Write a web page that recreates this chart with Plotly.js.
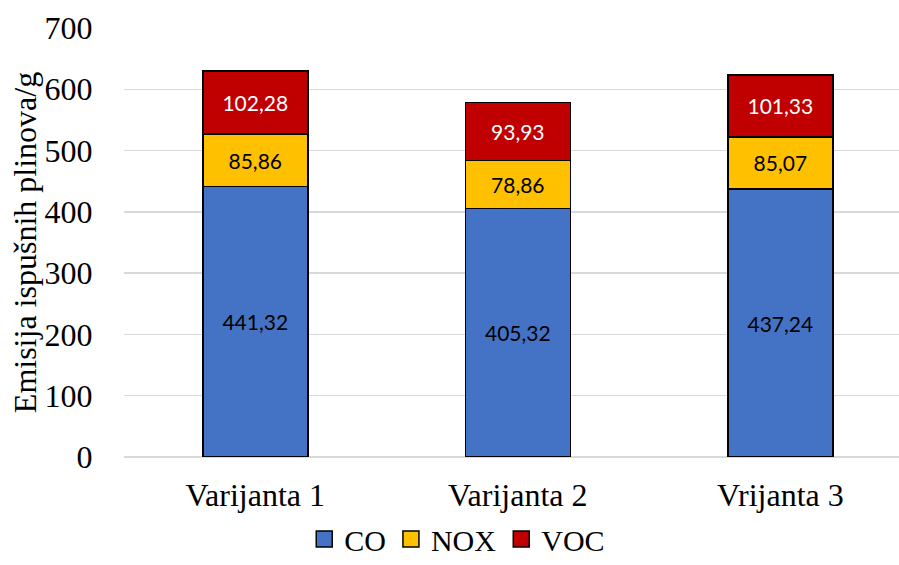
<!DOCTYPE html>
<html>
<head>
<meta charset="utf-8">
<script src="https://cdn.plot.ly/plotly-3.0.1.min.js"></script>
<style>html,body{margin:0;padding:0;background:#fff;}#chart{width:899px;height:565px;}</style>
</head>
<body>
<div id="chart"></div>
<script>
const categories = ["Varijanta 1", "Varijanta 2", "Vrijanta 3"];
const coValues = [441.32, 405.32, 437.24];
const noxValues = [85.86, 78.86, 85.07];
const vocValues = [102.28, 93.93, 101.33];
const seriesNames = ["CO", "NOX", "VOC"];
const yTicks = [0, 100, 200, 300, 400, 500, 600, 700];

const colors = ["#4472C4", "#FFC000", "#C00000"];
const textColors = ["#000000", "#000000", "#FFFFFF"];
const seriesValues = [coValues, noxValues, vocValues];

const barTraces = seriesValues.map((vals, i) => ({
  type: "bar",
  name: seriesNames[i],
  x: categories,
  y: vals,
  showlegend: false,
  marker: { color: colors[i], line: { color: "#000000", width: 1.5 } },
  texttemplate: "%{y:.2f}",
  textposition: "inside",
  insidetextanchor: "middle",
  textangle: 0,
  constraintext: "none",
  textfont: { family: "Lato, 'Open Sans', sans-serif", size: 21, color: textColors[i] },
  hoverinfo: "skip"
}));

const legendTraces = seriesNames.map((n, i) => ({
  type: "scatter",
  mode: "markers",
  name: n,
  x: [null],
  y: [null],
  showlegend: true,
  marker: { symbol: "square", size: 17, color: colors[i], line: { color: "#000000", width: 1.5 } },
  hoverinfo: "skip"
}));

const serif = "Liberation Serif, Times New Roman, serif";
const layout = {
  width: 899, height: 565,
  margin: { l: 124, r: 0, t: 28, b: 108, autoexpand: false },
  barmode: "stack",
  bargap: 0.6,
  separators: ",.",
  paper_bgcolor: "#ffffff",
  plot_bgcolor: "#ffffff",
  font: { family: serif, color: "#000000" },
  xaxis: {
    type: "category",
    range: [-0.5, 2.452],
    automargin: false,
    showgrid: false, showline: false, zeroline: false,
    ticks: "outside", ticklen: 10, tickcolor: "rgba(0,0,0,0)",
    tickfont: { family: serif, size: 32, color: "#000000" },
    fixedrange: true
  },
  yaxis: {
    range: [0, 700],
    tickvals: yTicks,
    automargin: false,
    showgrid: true, gridcolor: "#d9d9d9", gridwidth: 1.5,
    zeroline: true, zerolinecolor: "#d9d9d9", zerolinewidth: 1.5,
    showline: false,
    ticks: "outside", ticklen: 24, tickcolor: "rgba(0,0,0,0)",
    tickfont: { family: serif, size: 32, color: "#000000" },
    title: { text: "Emisija ispušnih plinova/g", font: { family: serif, size: 32, color: "#000000" } },
    fixedrange: true
  },
  showlegend: true,
  legend: {
    orientation: "h",
    x: 0.43, xanchor: "center",
    yref: "container",
    y: -0.009, yanchor: "bottom",
    font: { family: serif, size: 30, color: "#000000" },
    traceorder: "normal",
    itemwidth: 30,
    itemsizing: "trace"
  }
};

Plotly.newPlot("chart", barTraces.concat(legendTraces), layout, { displayModeBar: false, staticPlot: true });
</script>
</body>
</html>
